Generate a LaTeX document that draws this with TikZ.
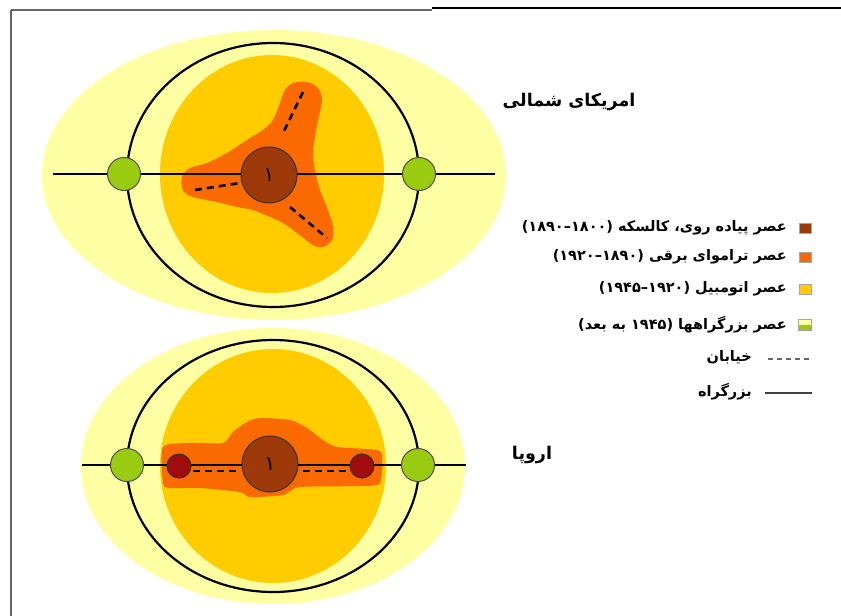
\documentclass[tikz,border=0pt]{standalone}
\usepackage{fontspec}
\newfontfamily\fa[Script=Arabic]{DejaVu Sans}
\TeXXeTstate=1
\definecolor{lyel}{HTML}{FFFFA3}
\definecolor{gold}{HTML}{FFCC00}
\definecolor{orng}{HTML}{FB6A00}
\definecolor{brwn}{HTML}{9E3A0A}
\definecolor{dred}{HTML}{A00C0C}
\definecolor{grn}{HTML}{99CC11}
\definecolor{frame}{HTML}{666666}
\tikzset{
  ring/.style={draw=black,line width=2.2pt},
  road/.style={draw=black,line width=2.4pt},
  street/.style={draw=black,line width=2.6pt,dash pattern=on 7pt off 5pt},
  greennode/.style={circle,fill=grn,draw=black!70,line width=1pt,minimum size=33pt,inner sep=0pt},
  core/.style={circle,fill=brwn,draw=black!80,line width=1pt,minimum size=56pt,inner sep=0pt},
  rednode/.style={circle,fill=dred,draw=black!80,line width=1pt,minimum size=24pt,inner sep=0pt},
  legtext/.style={anchor=east,inner sep=0pt,font=\fa\bfseries\fontsize{14.5}{16}\selectfont},
  title/.style={inner sep=0pt,font=\fa\bfseries\fontsize{17.5}{20}\selectfont},
  swatch/.style={draw=black!35,line width=0.6pt,minimum width=12pt,minimum height=10pt,inner sep=0pt},
}
\begin{document}
\begin{tikzpicture}[x=1pt,y=-1pt]
\useasboundingbox (0,0) rectangle (841,616);
\fill[white] (0,0) rectangle (841,616);
% frame
\draw[frame,line width=2pt] (11,10) -- (432,10);
\draw[black,line width=1.6pt] (432,8) -- (841,8);
\draw[frame,line width=1.4pt] (11,10) -- (11,616);

% ===== North America =====
\fill[lyel] (274,175) ellipse [x radius=232pt, y radius=145pt];
\draw[ring] (273,175) ellipse [x radius=146pt, y radius=132pt];
\fill[gold] (272,174) ellipse [x radius=112pt, y radius=119pt];
\fill[orng] plot[smooth cycle,tension=0.55] coordinates {
 (293,83) (307,82) (318,88) (322,100) (318,120) (315,137) (313,153) (315,170)
 (320,190) (328,210) (333,227) (332,240) (323,247) (313,245) (297,233) (283,223)
 (270,217) (253,210) (237,207) (217,202) (193,197) (183,190) (182,177) (190,168)
 (207,163) (227,153) (247,140) (263,130) (273,120) (280,103) (285,90)};
\coordinate (naL) at (53,174);
\coordinate (naR) at (495,174);
\draw[road] (naL) -- (naR);
\coordinate (d1a) at (303,92);  \coordinate (d1b) at (283,133);
\coordinate (d2a) at (195,190); \coordinate (d2b) at (240,183);
\coordinate (d3a) at (290,207); \coordinate (d3b) at (327,238);
\draw[street] (d1a) -- (d1b);
\draw[street] (d2a) -- (d2b);
\draw[street] (d3a) -- (d3b);
\node[greennode] (nag1) at (124,174) {};
\node[greennode] (nag2) at (419,174) {};
\node[core] (nacore) at (269,175) {};
\node[font=\fa\fontsize{20}{20}\selectfont,inner sep=0pt] (naone) at (269,175) {۱};

% ===== Europe =====
\fill[lyel] (273,466) ellipse [x radius=192pt, y radius=138pt];
\draw[ring] (273,466) ellipse [x radius=146pt, y radius=126pt];
\fill[gold] (273,466) ellipse [x radius=113pt, y radius=117pt];
\fill[orng] plot[smooth cycle,tension=0.4] coordinates {
 (163,447) (190,443) (223,443) (233,432) (247,422) (260,418) (290,420) (307,428)
 (323,440) (337,447) (377,450) (382,457) (380,483) (363,486) (300,487) (283,495)
 (250,497) (240,492) (200,488) (170,488) (163,483)};
\coordinate (euL) at (82,465);
\coordinate (euR) at (466,465);
\draw[road] (euL) -- (euR);
\coordinate (e1a) at (193,471); \coordinate (e1b) at (237,471);
\coordinate (e2a) at (303,471); \coordinate (e2b) at (347,471);
\draw[street] (e1a) -- (e1b);
\draw[street] (e2a) -- (e2b);
\node[greennode] (eug1) at (127,465) {};
\node[greennode] (eug2) at (418,465) {};
\node[rednode] (eur1) at (179,466) {};
\node[rednode] (eur2) at (362,466) {};
\node[core] (eucore) at (270,464) {};
\node[font=\fa\fontsize{20}{20}\selectfont,inner sep=0pt] (euone) at (270,464) {۱};

% ===== titles =====
\node[title] (tna) at (569,102) {\beginR امریکای شمالی\endR};
\node[title] (teu) at (532,455) {\beginR اروپا\endR};

% ===== legend =====
\node[swatch,fill=brwn] (s1) at (805,228) {};
\node[swatch,fill=orng] (s2) at (805,257) {};
\node[swatch,fill=gold] (s3) at (805,289) {};
\node[swatch,fill=grn] (s4) at (805,325) {};
\fill[lyel] (s4.north west) rectangle (s4.east);
\draw[black!35,line width=0.6pt] (s4.north west) rectangle (s4.south east);
\node[legtext] (l1) at (787,228) {\beginR عصر پیاده روی، کالسکه (۱۸۰۰–۱۸۹۰)\endR};
\node[legtext] (l2) at (787,257) {\beginR عصر تراموای برقی (۱۸۹۰–۱۹۲۰)\endR};
\node[legtext] (l3) at (787,289) {\beginR عصر اتومبیل (۱۹۲۰–۱۹۴۵)\endR};
\node[legtext] (l4) at (787,325) {\beginR عصر بزرگراهها (۱۹۴۵ به بعد)\endR};
\node[legtext] (l5) at (752,357) {\beginR خیابان\endR};
\node[legtext] (l6) at (752,392) {\beginR بزرگراه\endR};
\coordinate (k1a) at (768,359); \coordinate (k1b) at (811,359);
\coordinate (k2a) at (765,393); \coordinate (k2b) at (812,393);
\draw[black!60,line width=1.4pt,dash pattern=on 5pt off 4pt] (k1a) -- (k1b);
\draw[black!75,line width=1.8pt] (k2a) -- (k2b);
\end{tikzpicture}
\end{document}
